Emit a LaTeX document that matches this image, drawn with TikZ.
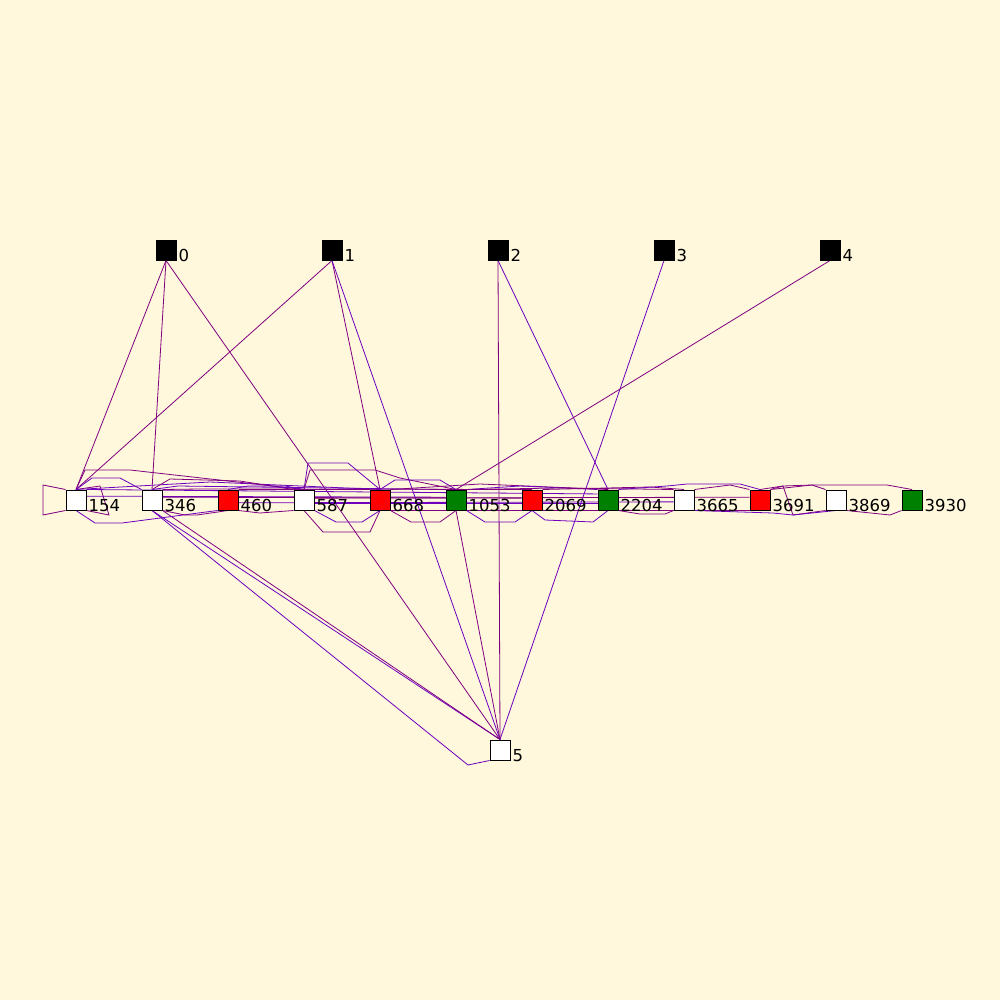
\documentclass[tikz,border=0pt]{standalone}
\usepackage{fontspec}
\setmainfont{DejaVu Sans}
\definecolor{canvas}{RGB}{255,248,220}
\definecolor{edgea}{RGB}{128,0,128}
\definecolor{edgeb}{RGB}{110,0,190}
\definecolor{boxred}{RGB}{255,0,0}
\definecolor{boxgreen}{RGB}{0,128,0}
\pgfdeclarelayer{edges}
\pgfsetlayers{edges,main}
\tikzset{
  box/.style={draw=black,line width=1pt,minimum size=20pt,inner sep=0pt},
  wbox/.style={box,fill=white},
  kbox/.style={box,fill=black},
  rbox/.style={box,fill=boxred},
  gbox/.style={box,fill=boxgreen},
  lbl/.style={anchor=base west,inner sep=2pt,yshift=-1pt,font=\fontsize{16.5}{18}\selectfont},
  pa/.style={draw=edgea,line width=0.8pt},
  pb/.style={draw=edgeb,line width=0.8pt}
}
\begin{document}
\begin{tikzpicture}[x=1pt,y=-1pt]

%draws the top row
\node[kbox] (n0) at (166,250) {};
\node[kbox] (n1) at (332,250) {};
\node[kbox] (n2) at (498,250) {};
\node[kbox] (n3) at (664,250) {};
\node[kbox] (n4) at (830,250) {};

%draws the middle row
\node[wbox] (n154) at (76,500) {};
\node[wbox] (n346) at (152,500) {};
\node[rbox] (n460) at (228,500) {};
\node[wbox] (n587) at (304,500) {};
\node[rbox] (n668) at (380,500) {};
\node[gbox] (n1053) at (456,500) {};
\node[rbox] (n2069) at (532,500) {};
\node[gbox] (n2204) at (608,500) {};
\node[wbox] (n3665) at (684,500) {};
\node[rbox] (n3691) at (760,500) {};
\node[wbox] (n3869) at (836,500) {};
\node[gbox] (n3930) at (912,500) {};

%draws the bottom node
\node[wbox] (n5) at (500,750) {};

%labels
\node[lbl] at (n0.south east) {0};
\node[lbl] at (n1.south east) {1};
\node[lbl] at (n2.south east) {2};
\node[lbl] at (n3.south east) {3};
\node[lbl] at (n4.south east) {4};
\node[lbl] at (n154.south east) {154};
\node[lbl] at (n346.south east) {346};
\node[lbl] at (n460.south east) {460};
\node[lbl] at (n587.south east) {587};
\node[lbl] at (n668.south east) {668};
\node[lbl] at (n1053.south east) {1053};
\node[lbl] at (n2069.south east) {2069};
\node[lbl] at (n2204.south east) {2204};
\node[lbl] at (n3665.south east) {3665};
\node[lbl] at (n3691.south east) {3691};
\node[lbl] at (n3869.south east) {3869};
\node[lbl] at (n3930.south east) {3930};
\node[lbl] at (n5.south east) {5};

\begin{pgfonlayer}{edges}
%background
\fill[canvas] (0,0) rectangle (1000,1000);

%long edges from the top row
\draw[pa] (n0.south) -- (n154.north);
\draw[pa] (n0.south) -- (n346.north);
\draw[pa] (n0.south) -- (n5.north);
\draw[pa] (n1.south) -- (n154.north);
\draw[pa] (n1.south) -- (n668.north);
\draw[pb] (n1.south) -- (n5.north);
\draw[pa] (n2.south) -- (n5.north);
\draw[pb] (n2.south) -- (n2204.north);
\draw[pb] (n3.south) -- (n5.north);
\draw[pa] (n4.south) -- (n1053.north);

%long edges into 5
\draw[pb] (n346.south) -- (n5.north);
\draw[pa] (n346.south east) -- (n5.north);
\draw[pb] (n346.south) -- (468,765) -- (n5.south west);
\draw[pa] (n1053.south) -- (n5.north);

%edges above the middle row
\draw[pa] (n154.north west) -- (43,485) -- (43,515) -- (n154.south west);
\draw[pa] (n154.north) -- (100,486) -- (109,515) -- (n154.south east);
\draw[pa] (n154.north) -- (85,470) -- (130,470) -- (n587.north);
\draw[pb] (n154.north) -- (92,478) -- (120,478) -- (n346.north west);
\draw[pb] (n154.north) -- (210,482) -- (n668.north);
\draw[pa] (n346.north) -- (170,479) -- (240,481) -- (n587.north west);
\draw[pb] (n346.north) -- (178,486) -- (n1053.north west);
\draw[pa] (n346.north east) -- (200,489) -- (n2069.north);
\draw[pb] (n460.north) -- (248,486) -- (285,486) -- (n587.north);
\draw[pa] (n460.north east) -- (n668.north west);
\draw[pb] (n587.north) -- (308,463) -- (348,463) -- (n668.north);
\draw[pa] (n587.north) -- (310,470) -- (375,470) -- (400,478) -- (n1053.north);
\draw[pb] (n668.north) -- (395,480) -- (440,480) -- (n1053.north);
\draw[pa] (n668.north east) -- (480,484) -- (n2204.north);
\draw[pb] (n1053.north east) -- (520,486) -- (n2204.north west);
\draw[pa] (n1053.north east) -- (560,488) -- (n3665.north west);
\draw[pa] (n2069.north east) -- (650,487) -- (n3665.north);
\draw[pb] (n2204.north east) -- (667,486) -- (687,484) -- (740,484) -- (n3691.north);
\draw[pa] (n3665.north east) -- (730,485) -- (n3691.north west);
\draw[pa] (n3691.north) -- (783,486) -- (812,485) -- (n3869.north west);
\draw[pa] (n3691.north east) -- (812,485) -- (887,485) -- (n3930.north);
\draw[pa] (n3691.north east) -- (783,486) -- (793,515) -- (n3869.south west);

%edges through the middle row
\draw[pb] (n154.20) -- (n1053.165);
\draw[pa] (n346.15) -- (n2069.170);
\draw[pb] (n460.-15) -- (n3665.-170);
\draw[pa] (n587.10) -- (n3691.165);
\draw[pb] (n154.north east) -- (n2204.150);
\draw[pa] (n668.south east) -- (n3691.south west);
\draw[pb] (n587.-20) -- (n2204.-160);

%edges below the middle row
\draw[pb] (n154.south) -- (95,523) -- (122,523) -- (n460.south west);
\draw[pa] (n346.south east) -- (185,515) -- (197,515) -- (n460.south);
\draw[pa] (n460.south east) -- (260,513) -- (n587.south west);
\draw[pa] (n587.south) -- (323,532) -- (370,532) -- (n668.south);
\draw[pb] (n587.south east) -- (336,522) -- (362,522) -- (n668.south);
\draw[pa] (n668.south east) -- (411,522) -- (440,522) -- (n1053.south);
\draw[pb] (n1053.south east) -- (485,522) -- (515,522) -- (n2069.south);
\draw[pb] (n2069.south) -- (545,520) -- (593,522) -- (n2204.south);
\draw[pa] (n2204.south east) -- (640,514) -- (665,514) -- (n3665.south west);
\draw[pb] (n3665.south east) -- (773,513) -- (793,515) -- (n3869.south);
\draw[pa] (n3869.south east) -- (890,515) -- (n3930.south west);
\end{pgfonlayer}

\end{tikzpicture}
\end{document}
